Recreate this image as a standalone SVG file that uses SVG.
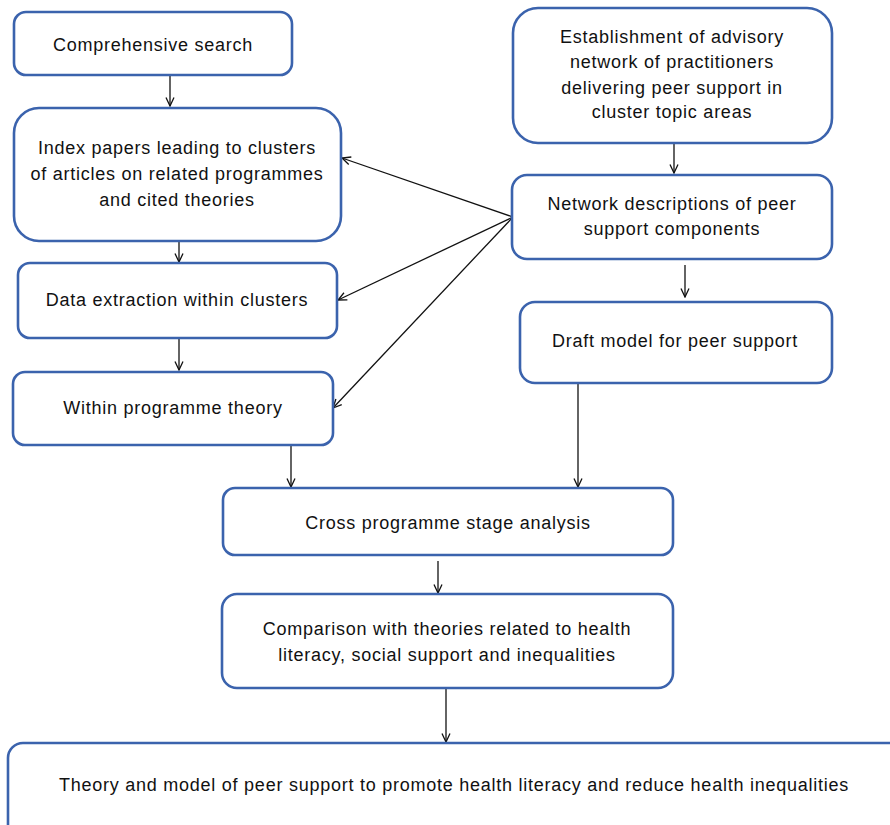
<svg xmlns="http://www.w3.org/2000/svg" width="890" height="825" viewBox="0 0 890 825">
<defs>
<style>
.box{fill:#fff;stroke:#3b63ad;stroke-width:2.6}
.t{font-family:"Liberation Sans",Arial,sans-serif;font-size:18px;letter-spacing:0.75px;fill:#111;text-anchor:middle}
.c{stroke:#111;stroke-width:1.3;fill:none;marker-end:url(#ah)}
</style>
<marker id="ah" viewBox="0 0 10 10" refX="9.5" refY="5" markerWidth="10" markerHeight="10" markerUnits="userSpaceOnUse" orient="auto">
<path d="M1,1 L9.5,5 L1,9" fill="none" stroke="#111" stroke-width="1.3"/>
</marker>
</defs>
<rect width="890" height="825" fill="#fff"/>
<g id="connectors">
<line class="c" x1="170" y1="76" x2="170" y2="106"/>
<line class="c" x1="179" y1="241" x2="179" y2="262"/>
<line class="c" x1="179" y1="339" x2="179" y2="370"/>
<line class="c" x1="674" y1="144" x2="674" y2="173"/>
<line class="c" x1="685" y1="265" x2="685" y2="297"/>
<line class="c" x1="578" y1="383" x2="578" y2="487"/>
<line class="c" x1="291" y1="446" x2="291" y2="487"/>
<line class="c" x1="438" y1="561" x2="438" y2="593"/>
<line class="c" x1="446" y1="689" x2="446" y2="742"/>
<line class="c" x1="513" y1="217" x2="342" y2="158"/>
<line class="c" x1="513" y1="217" x2="338" y2="300"/>
<line class="c" x1="513" y1="217" x2="333" y2="408"/>
</g>
<g id="n1"><rect class="box" x="14" y="12" width="278" height="63" rx="12"/>
<text class="t" x="153" y="45" dy="0.35em">Comprehensive  search</text></g>
<g id="n2"><rect class="box" x="14" y="108" width="327" height="133" rx="25"/>
<text class="t" x="177" y="148" dy="0.35em">Index papers leading to clusters</text>
<text class="t" x="177" y="174" dy="0.35em">of articles on related programmes</text>
<text class="t" x="177" y="200" dy="0.35em">and cited theories</text></g>
<g id="n3"><rect class="box" x="18" y="263" width="319" height="75" rx="12"/>
<text class="t" x="177" y="300" dy="0.35em">Data extraction within clusters</text></g>
<g id="n4"><rect class="box" x="13" y="372" width="320" height="73" rx="12"/>
<text class="t" x="173" y="408" dy="0.35em">Within programme theory</text></g>
<g id="n5"><rect class="box" x="513" y="8" width="319" height="135" rx="25"/>
<text class="t" x="672" y="37" dy="0.35em">Establishment of advisory</text>
<text class="t" x="672" y="62" dy="0.35em">network of practitioners</text>
<text class="t" x="672" y="88" dy="0.35em">delivering peer support in</text>
<text class="t" x="672" y="112" dy="0.35em">cluster topic areas</text></g>
<g id="n6"><rect class="box" x="512" y="175" width="320" height="84" rx="15"/>
<text class="t" x="672" y="204" dy="0.35em">Network descriptions of peer</text>
<text class="t" x="672" y="229" dy="0.35em">support  components</text></g>
<g id="n7"><rect class="box" x="520" y="302" width="312" height="81" rx="15"/>
<text class="t" x="675" y="341" dy="0.35em">Draft model for peer support</text></g>
<g id="n8"><rect class="box" x="223" y="488" width="450" height="67" rx="12"/>
<text class="t" x="448" y="523" dy="0.35em">Cross programme stage analysis</text></g>
<g id="n9"><rect class="box" x="222" y="594" width="451" height="94" rx="15"/>
<text class="t" x="447" y="629" dy="0.35em">Comparison with theories related to health</text>
<text class="t" x="447" y="655" dy="0.35em">literacy, social support  and inequalities</text></g>
<g id="n10"><rect class="box" x="8" y="743" width="900" height="100" rx="15"/>
<text class="t" x="454" y="785" dy="0.35em">Theory and model of peer support to promote health literacy and reduce health inequalities</text></g>
</svg>
